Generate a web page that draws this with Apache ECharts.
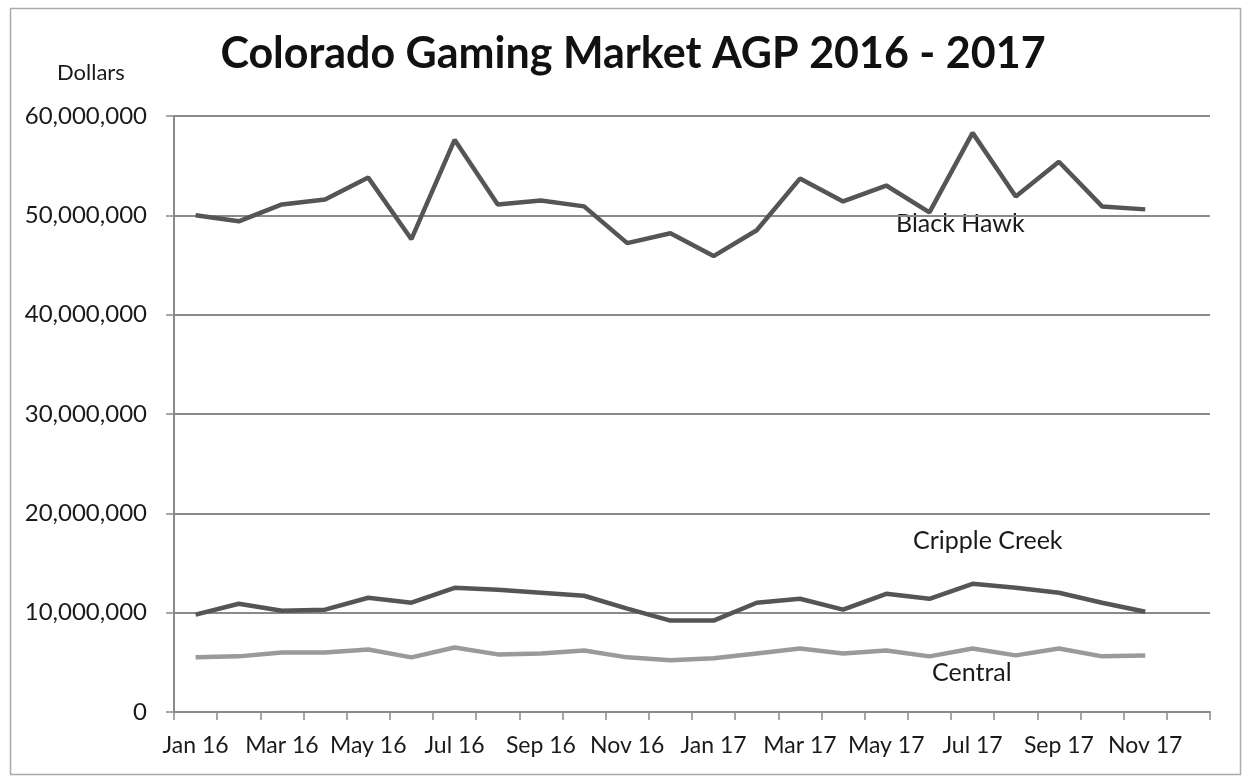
<!DOCTYPE html>
<html>
<head>
<meta charset="utf-8">
<script src="https://cdn.jsdelivr.net/npm/echarts@6/dist/echarts.min.js"></script>
<style>
html,body{margin:0;padding:0;background:#fff;}
#chart{width:1242px;height:776px;}
</style>
</head>
<body>
<div id="chart"></div>
<script>
const categories = ["Jan 16","Feb 16","Mar 16","Apr 16","May 16","Jun 16","Jul 16","Aug 16","Sep 16","Oct 16","Nov 16","Dec 16",
  "Jan 17","Feb 17","Mar 17","Apr 17","May 17","Jun 17","Jul 17","Aug 17","Sep 17","Oct 17","Nov 17","Dec 17"];
const blackHawk = [50.0,49.4,51.1,51.6,53.8,47.6,57.6,51.1,51.5,50.9,47.2,48.2,45.9,48.5,53.7,51.4,53.0,50.3,58.3,51.9,55.4,50.9,50.6];
const crippleCreek = [9.8,10.9,10.2,10.3,11.5,11.0,12.5,12.3,12.0,11.7,10.4,9.2,9.2,11.0,11.4,10.3,11.9,11.4,12.9,12.5,12.0,11.0,10.1];
const central = [5.5,5.6,6.0,6.0,6.3,5.5,6.5,5.8,5.9,6.2,5.5,5.2,5.4,5.9,6.4,5.9,6.2,5.6,6.4,5.7,6.4,5.6,5.7];
const yTicks = [0,10000000,20000000,30000000,40000000,50000000,60000000];
const M = 1000000;

const chart = echarts.init(document.getElementById('chart'));
const font = 'Lato, "Open Sans", sans-serif';
const gridColor = '#8a8a8a';
const txt = '#1a1a1a';
chart.setOption({
  animation: false,
  backgroundColor: '#fff',
  textStyle: {fontFamily: font},
  title: {
    text: 'Colorado Gaming Market AGP 2016 - 2017',
    left: 628, top: 28, textAlign: 'center',
    textStyle: {fontFamily: font, fontSize: 43, fontWeight: 'bold', color: '#111'}
  },
  grid: {left: 174, right: 32, top: 116, bottom: 64, containLabel: false},
  xAxis: {
    type: 'category',
    data: categories,
    boundaryGap: true,
    axisLine: {lineStyle: {color: gridColor, width: 2}},
    axisTick: {show: true, interval: 0, length: 8, lineStyle: {color: gridColor, width: 1.5}},
    axisLabel: {interval: 1, fontSize: 23, color: txt, margin: 22, fontFamily: font}
  },
  yAxis: {
    type: 'value',
    min: yTicks[0], max: yTicks[yTicks.length-1], interval: 10000000,
    axisLine: {show: true, lineStyle: {color: gridColor, width: 2}},
    axisTick: {show: true, length: 8, lineStyle: {color: gridColor, width: 1.5}},
    splitLine: {show: true, lineStyle: {color: gridColor, width: 2}},
    axisLabel: {
      fontSize: 24, color: txt, margin: 27, fontFamily: font,
      formatter: v => v.toLocaleString('en-US')
    }
  },
  graphic: [
    {type: 'rect', left: 8, top: 6, shape: {width: 1230, height: 766}, style: {fill: 'none', stroke: '#aaa', lineWidth: 1.5}, silent: true},
    {type: 'text', x: 57, y: 73, style: {text: 'Dollars', fontSize: 22, fill: txt, fontFamily: font, verticalAlign: 'middle'}},
    {type: 'text', x: 896, y: 224, style: {text: 'Black Hawk', fontSize: 25, fill: txt, fontFamily: font, verticalAlign: 'middle'}},
    {type: 'text', x: 913, y: 541, style: {text: 'Cripple Creek', fontSize: 25, fill: txt, fontFamily: font, verticalAlign: 'middle'}},
    {type: 'text', x: 932, y: 673, style: {text: 'Central', fontSize: 25, fill: txt, fontFamily: font, verticalAlign: 'middle'}}
  ],
  series: [
    {name: 'Black Hawk', type: 'line', data: blackHawk.map(v => v*M), symbol: 'none',
     lineStyle: {color: '#555', width: 4.5}},
    {name: 'Cripple Creek', type: 'line', data: crippleCreek.map(v => v*M), symbol: 'none',
     lineStyle: {color: '#555', width: 4.5}},
    {name: 'Central', type: 'line', data: central.map(v => v*M), symbol: 'none',
     lineStyle: {color: '#9a9a9a', width: 4.5}}
  ]
});
</script>
</body>
</html>
